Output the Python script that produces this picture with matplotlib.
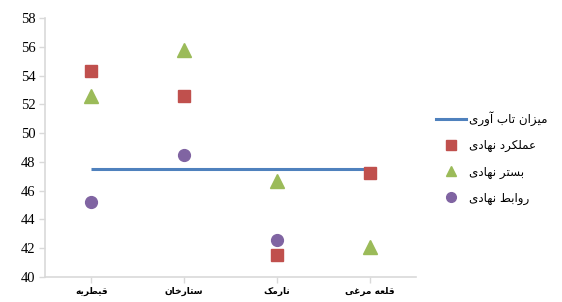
import matplotlib
matplotlib.use("Agg")
import matplotlib.pyplot as plt
from matplotlib.lines import Line2D

# ---- data ----
categories = ["قیطریه", "ستارخان", "نارمک", "قلعه مرغی"]
resilience = [47.5, 47.5, 47.5, 47.5]          # میزان تاب آوری
performance = [54.3, 52.6, 41.5, 47.2]         # عملکرد نهادی
platform = [52.6, 55.8, 46.7, 42.1]            # بستر نهادی
relations = [45.2, 48.5, 42.6, None]           # روابط نهادی
series_names = ["میزان تاب آوری", "عملکرد نهادی", "بستر نهادی", "روابط نهادی"]
y_ticks = [40, 42, 44, 46, 48, 50, 52, 54, 56, 58]

# ---- minimal Persian shaping (presentation forms + RTL order) ----
FORMS = {
    'ا': ('\uFE8D', '\uFE8E', None, None),
    'آ': ('\uFE81', '\uFE82', None, None),
    'ب': ('\uFE8F', '\uFE90', '\uFE91', '\uFE92'),
    'ت': ('\uFE95', '\uFE96', '\uFE97', '\uFE98'),
    'خ': ('\uFEA5', '\uFEA6', '\uFEA7', '\uFEA8'),
    'د': ('\uFEA9', '\uFEAA', None, None),
    'ر': ('\uFEAD', '\uFEAE', None, None),
    'ز': ('\uFEAF', '\uFEB0', None, None),
    'س': ('\uFEB1', '\uFEB2', '\uFEB3', '\uFEB4'),
    'ط': ('\uFEC1', '\uFEC2', '\uFEC3', '\uFEC4'),
    'ع': ('\uFEC9', '\uFECA', '\uFECB', '\uFECC'),
    'غ': ('\uFECD', '\uFECE', '\uFECF', '\uFED0'),
    'ق': ('\uFED5', '\uFED6', '\uFED7', '\uFED8'),
    'ل': ('\uFEDD', '\uFEDE', '\uFEDF', '\uFEE0'),
    'م': ('\uFEE1', '\uFEE2', '\uFEE3', '\uFEE4'),
    'ن': ('\uFEE5', '\uFEE6', '\uFEE7', '\uFEE8'),
    'ه': ('\uFEE9', '\uFEEA', '\uFEEB', '\uFEEC'),
    'و': ('\uFEED', '\uFEEE', None, None),
    'ی': ('\uFBFC', '\uFBFD', '\uFBFE', '\uFBFF'),
    'ک': ('\uFB8E', '\uFB8F', '\uFB90', '\uFB91'),
}


def shape(text):
    out = []
    n = len(text)
    for i, ch in enumerate(text):
        if ch not in FORMS:
            out.append(ch)
            continue
        iso, fin, ini, med = FORMS[ch]
        prev = text[i - 1] if i > 0 else None
        nxt = text[i + 1] if i < n - 1 else None
        join_prev = prev in FORMS and FORMS[prev][2] is not None
        join_next = ini is not None and nxt in FORMS
        if join_prev and join_next:
            out.append(med)
        elif join_prev:
            out.append(fin)
        elif join_next:
            out.append(ini)
        else:
            out.append(iso)
    return "".join(out)[::-1]


blue = "#4F81BD"
red = "#C0504D"
green = "#9BBB59"
purple = "#8064A2"
axis_grey = "#D9D9D9"

fig = plt.figure(figsize=(5.62, 3.02), dpi=100)
ax = fig.add_axes([45 / 562, 1 - 277 / 302, (416 - 45) / 562, (277 - 18) / 302])

x = list(range(len(categories)))
ax.plot(x, resilience, color=blue, lw=2.2, solid_capstyle="butt", zorder=2)
ax.plot(x, performance, ls="none", marker="s", ms=8.5, color=red, zorder=3, clip_on=False)
ax.plot(x, platform, ls="none", marker="^", ms=9.5, color=green, zorder=3, clip_on=False)
rx = [xi for xi, v in zip(x, relations) if v is not None]
ry = [v for v in relations if v is not None]
ax.plot(rx, ry, ls="none", marker="o", ms=8.5, color=purple, zorder=3, clip_on=False)

ax.set_xlim(-0.5, len(categories) - 0.5)
ax.set_ylim(y_ticks[0], y_ticks[-1])
ax.set_yticks(y_ticks)
ax.set_yticklabels([str(t) for t in y_ticks], fontfamily="Liberation Serif", fontsize=10.5)
ax.set_xticks(x)
ax.set_xticklabels([shape(c) for c in categories], fontfamily="DejaVu Sans",
                   fontsize=6.5, fontweight="bold")

for s in ("top", "right"):
    ax.spines[s].set_visible(False)
for s in ("left", "bottom"):
    ax.spines[s].set_color(axis_grey)
    ax.spines[s].set_linewidth(1.2)
ax.tick_params(axis="y", colors=axis_grey, labelcolor="black", length=4, width=1, pad=3)
ax.tick_params(axis="x", colors=axis_grey, labelcolor="black", length=4, width=1, pad=3)

handles = [
    Line2D([], [], color=blue, lw=2.2),
    Line2D([], [], ls="none", marker="s", ms=7, color=red),
    Line2D([], [], ls="none", marker="^", ms=7.5, color=green),
    Line2D([], [], ls="none", marker="o", ms=7, color=purple),
]
fig.legend(handles, [shape(s) for s in series_names], loc="center left",
           bbox_to_anchor=(428 / 562, 1 - 158 / 302), frameon=False,
           prop={"family": "DejaVu Sans", "size": 8.6}, labelspacing=1.1,
           handlelength=2.5, handletextpad=0.25, borderaxespad=0.3)

fig.savefig("out.png", dpi=100)
